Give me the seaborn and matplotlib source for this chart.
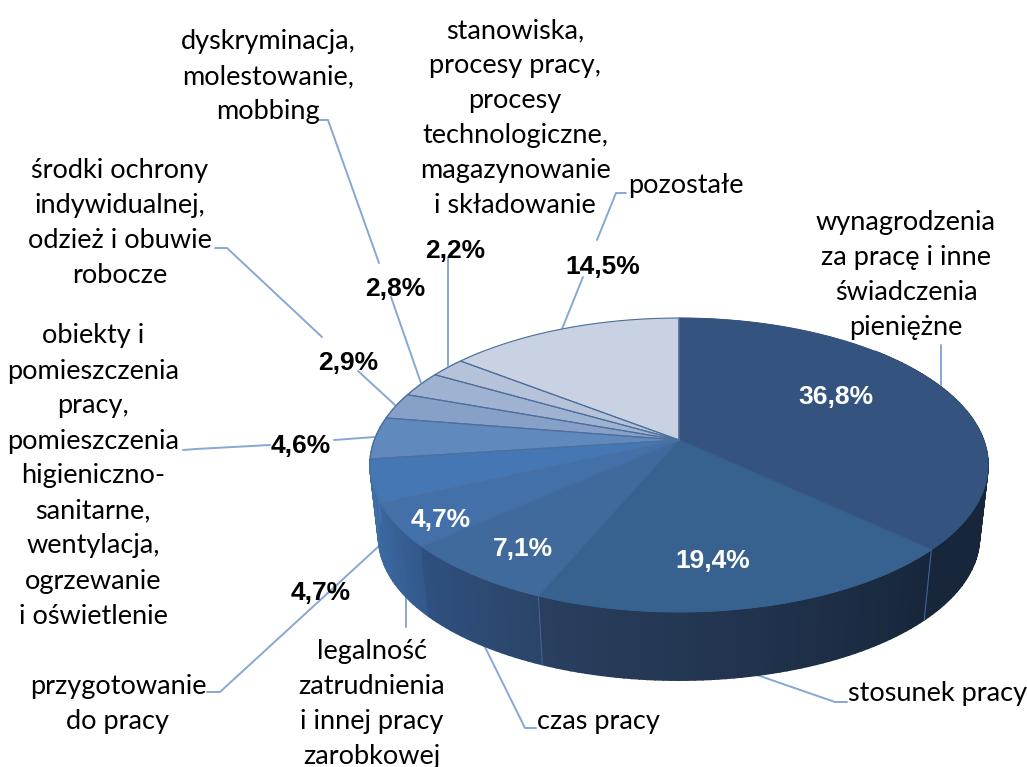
import numpy as np
import matplotlib
matplotlib.use("Agg")
import matplotlib.pyplot as plt
import seaborn as sns

categories = ["wynagrodzenia za pracę i inne świadczenia pieniężne", "stosunek pracy", "czas pracy",
              "legalność zatrudnienia i innej pracy zarobkowej", "przygotowanie do pracy",
              "obiekty i pomieszczenia pracy, pomieszczenia higieniczno-sanitarne, wentylacja, ogrzewanie i oświetlenie",
              "środki ochrony indywidualnej, odzież i obuwie robocze", "dyskryminacja, molestowanie, mobbing",
              "stanowiska, procesy pracy, procesy technologiczne, magazynowanie i składowanie", "pozostałe"]
values = [36.8, 19.4, 7.1, 4.7, 4.7, 4.6, 2.9, 2.8, 2.2, 14.5]
pct_labels = ["36,8%", "19,4%", "7,1%", "4,7%", "4,7%", "4,6%", "2,9%", "2,8%", "2,2%", "14,5%"]
top_colors = ["#34547f", "#37618f", "#40699c", "#4370a8", "#4577b4", "#6089be", "#86a0c8", "#9fb2d2", "#b5c2da", "#c9d2e3"]
side_start = ["#17263a", "#17263a", "#2a4568", "#33598b", "#3a659e", "#3f6ea8", "#6089be", "#86a0c8", "#9fb2d2", "#c9d2e3"]
side_end   = ["#17263a", "#2a3f5f", "#2f5080", "#3a669d", "#3f6ea8", "#4577b4", "#6089be", "#86a0c8", "#9fb2d2", "#c9d2e3"]

name_texts = [
    ("wynagrodzenia\nza pracę i inne\nświadczenia\npieniężne", 906, 275),
    ("stosunek pracy", 938, 693),
    ("czas pracy", 598, 721),
    ("legalność\nzatrudnienia\ni innej pracy\nzarobkowej", 372, 704),
    ("przygotowanie\ndo pracy", 118, 704),
    ("obiekty i\npomieszczenia\npracy,\npomieszczenia\nhigieniczno-\nsanitarne,\nwentylacja,\nogrzewanie\ni oświetlenie", 93, 476),
    ("środki ochrony\nindywidualnej,\nodzież i obuwie\nrobocze", 120, 223),
    ("dyskryminacja,\nmolestowanie,\nmobbing", 268, 77),
    ("stanowiska,\nprocesy pracy,\nprocesy\ntechnologiczne,\nmagazynowanie\ni składowanie", 515, 118),
    ("pozostałe", 686, 186),
]
pct_pos = [(836, 397), (713, 561), (523, 549), (441, 520), (321, 593), (301, 446), (348, 363), (395, 289), (455, 251), (603, 267)]
pct_white = [True, True, True, True, False, False, False, False, False, False]
leaders = [
    [(941, 385), (941, 345)],
    [(757, 675), (835, 702), (847, 702)],
    [(483, 643), (525, 728), (536, 728)],
    [(406, 593), (406, 627)],
    [(378, 547), (220, 692), (207, 692)],
    [(375, 437), (334, 440)], [(270, 445), (196, 449), (183, 450)],
    [(395, 405), (358, 371)], [(322, 337), (227, 248), (215, 248)],
    [(421, 383), (391, 297)], [(379, 263), (328, 120), (318, 120)],
    [(448, 367), (448, 257)],
    [(562, 329), (583, 277)], [(597, 240), (616, 193), (626, 193)],
]

sns.set_theme(style="white")
fig = plt.figure(figsize=(10.27, 7.67), dpi=100, facecolor="white")
ax = fig.add_axes([0, 0, 1, 1])
ax.set_xlim(0, 1027)
ax.set_ylim(767, 0)
ax.axis("off")

CX, Y0, A, B, K = 679, 440, 304.5, 142.7, 0.17
SCALE, DEPTH = 0.972, 73


def project(theta, r=1.0, scale=1.0, dy=0.0):
    X, Y = r * np.sin(theta), r * np.cos(theta)
    w = 1 + K * Y
    return CX + scale * A * X / w, Y0 + dy + scale * B * (-Y) / w


fractions = np.array(values) / np.sum(values)
edges = np.concatenate([[0], np.cumsum(fractions)]) * 2 * np.pi

# side wall
for i in range(len(values)):
    t0, t1 = edges[i], edges[i + 1]
    n = max(int((t1 - t0) * 45), 2)
    ts = np.linspace(t0, t1, n + 1)
    cmap = sns.blend_palette([side_start[i], side_end[i]], n)
    for j in range(n):
        sub = np.linspace(ts[j], ts[j + 1], 12)
        if np.cos(sub.mean()) > 0.7:
            continue
        xt, yt = project(sub)
        xb, yb = project(sub[::-1], scale=SCALE, dy=DEPTH)
        ax.fill(np.r_[xt, xb], np.r_[yt, yb], color=cmap[j], lw=1.2, zorder=1 + 0.001 * j)
    xt, yt = project(t0)
    xb, yb = project(t0, scale=SCALE, dy=DEPTH)
    if np.cos(t0) < 0.25 and i in (1, 2):
        ax.plot([xt, xb], [yt, yb], color="#3f6596", lw=0.8, zorder=1.5)

# top surface
for i in range(len(values)):
    ts = np.linspace(edges[i], edges[i + 1], 200)
    xs, ys = project(ts)
    ax.fill(np.r_[CX, xs], np.r_[Y0, ys], facecolor=top_colors[i],
            edgecolor=top_colors[i], lw=0.4, zorder=2)
for i in range(len(values)):
    ts = np.linspace(edges[i], edges[i + 1], 200)
    xs, ys = project(ts)
    edge = "#4d6f9c" if i >= 4 else top_colors[i]
    ax.plot(np.r_[CX, xs, CX], np.r_[Y0, ys, Y0], color=edge, lw=0.8, zorder=3)

# leader lines
for pts in leaders:
    p = np.array(pts)
    ax.plot(p[:, 0], p[:, 1], color="#86a8d4", lw=1.4, zorder=0.5, solid_joinstyle="round")

for txt, x, y in name_texts:
    ax.text(x, y, txt, ha="center", va="center", fontfamily="Lato", fontsize=19.5,
            color="black", linespacing=1.5, zorder=5)
for lab, (x, y), white in zip(pct_labels, pct_pos, pct_white):
    ax.text(x, y, lab, ha="center", va="center", fontfamily="Liberation Sans", fontweight="bold",
            fontsize=19, color="white" if white else "black", zorder=5)

fig.savefig("out.png", dpi=100)
